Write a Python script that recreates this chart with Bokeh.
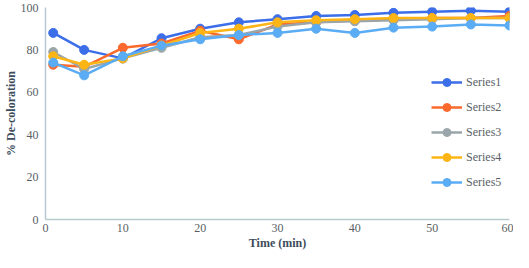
from bokeh.plotting import figure
from bokeh.models import Range1d, Legend, LegendItem
from bokeh.embed import file_html
from bokeh.resources import INLINE

time_min = [1, 5, 10, 15, 20, 25, 30, 35, 40, 45, 50, 55, 60]
series1 = [88, 80, 76, 85.5, 90, 93, 94.5, 96, 96.5, 97.5, 98, 98.5, 98]
series2 = [73, 72, 81, 83, 89, 85, 92, 93, 94, 94.5, 95, 95, 96]
series3 = [79, 71, 76, 81, 86, 87, 91, 93, 93.5, 94, 94.5, 95, 95]
series4 = [77, 73, 76, 82, 88, 90, 93, 94, 94.5, 95, 95, 95, 95]
series5 = [74, 68, 77, 82, 85, 87, 88, 90, 88, 90.5, 91, 92, 91.5]
names = ["Series1", "Series2", "Series3", "Series4", "Series5"]
colors = ["#3b6ee8", "#fb6a2c", "#9aa6aa", "#fdb515", "#5aacf4"]
x_ticks = [0, 10, 20, 30, 40, 50, 60]
y_ticks = [0, 20, 40, 60, 80, 100]

SERIF = "'Liberation Serif', 'Times New Roman', serif"

p = figure(width=513, height=252, output_backend="svg", toolbar_location=None,
           x_range=Range1d(0, 60), y_range=Range1d(0, 100),
           min_border_left=0, min_border_right=4, min_border_top=7, min_border_bottom=0)
p.outline_line_color = None
p.xgrid.grid_line_color = None
p.ygrid.grid_line_color = None
p.background_fill_color = "white"
p.border_fill_color = "white"

for ax in (p.xaxis[0], p.yaxis[0]):
    ax.axis_line_color = "#b9c9d0"
    ax.axis_line_width = 1.5
    ax.major_tick_line_color = None
    ax.minor_tick_line_color = None
    ax.major_tick_out = 0
    ax.major_tick_in = 0
    ax.minor_tick_out = 0
    ax.minor_tick_in = 0
    ax.major_label_text_font = SERIF
    ax.major_label_text_font_size = "12px"
    ax.major_label_text_color = "#5a5f66"
    ax.axis_label_text_font = SERIF
    ax.axis_label_text_font_size = "12px"
    ax.axis_label_text_font_style = "bold"
    ax.axis_label_text_color = "#3d4d5c"

p.xaxis.ticker = x_ticks
p.yaxis.ticker = y_ticks
p.xaxis.axis_label = "Time (min)"
p.yaxis.axis_label = "% De-coloration"
p.xaxis.major_label_standoff = 4
p.yaxis.major_label_standoff = 7
p.xaxis.axis_label_standoff = 1
p.yaxis.axis_label_standoff = 0

items = []
for name, ys, c in zip(names, [series1, series2, series3, series4, series5], colors):
    r1 = p.line(time_min, ys, line_color=c, line_width=2.5)
    r2 = p.scatter(time_min, ys, size=9, fill_color=c, line_color=c)
    items.append(LegendItem(label=name, renderers=[r1, r2]))

legend = Legend(items=items, location=(386, 27))
legend.background_fill_alpha = 0
legend.border_line_color = None
legend.padding = 0
legend.margin = 0
legend.spacing = 5
legend.glyph_width = 31
legend.glyph_height = 20
legend.label_height = 20
legend.label_standoff = 4
legend.label_text_font = SERIF
legend.label_text_font_size = "12px"
legend.label_text_color = "#5a5f66"
p.add_layout(legend, "center")

open("out.html", "w").write(file_html(p, INLINE))
